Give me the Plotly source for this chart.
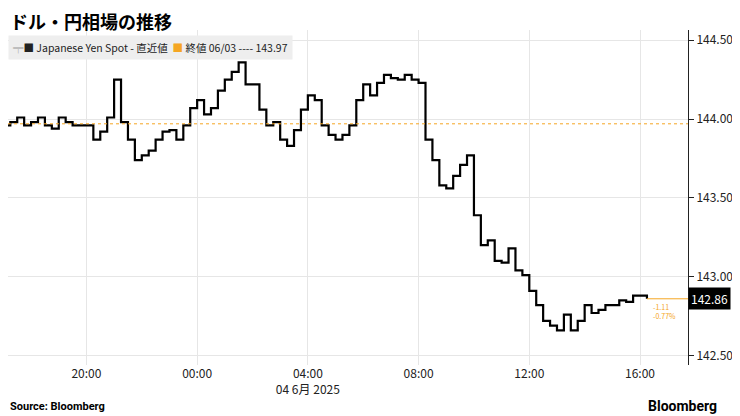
import pandas as pd
import plotly.graph_objects as go

prices = [143.96,143.98,144.01,143.96,143.98,144.01,143.96,143.94,144.01,143.98,143.96,143.96,
          143.96,143.87,143.92,144.01,144.25,143.98,143.87,143.74,143.77,143.80,143.87,143.92,
          143.93,143.87,143.96,144.07,144.12,144.03,144.07,144.18,144.25,144.30,144.36,144.22,
          144.22,144.06,143.96,143.98,143.87,143.83,143.93,144.06,144.15,144.12,143.96,143.90,
          143.87,143.90,143.96,144.12,144.22,144.15,144.23,144.28,144.26,144.25,144.28,144.25,
          144.23,143.87,143.74,143.58,143.56,143.64,143.71,143.77,143.39,143.20,143.23,143.10,
          143.09,143.18,143.04,143.01,142.91,142.82,142.72,142.69,142.66,142.76,142.66,142.72,
          142.82,142.77,142.79,142.82,142.82,142.85,142.84,142.88,142.88,142.86]
times = pd.date_range("2025-06-03 17:00", periods=len(prices), freq="15min")
prev_close = 143.97
last = prices[-1]
tick_vals = ["2025-06-03 20:00","2025-06-04 00:00","2025-06-04 04:00","2025-06-04 08:00","2025-06-04 12:00","2025-06-04 16:00"]
tick_text = ["20:00","00:00","04:00<br>04 6月 2025","08:00","12:00","16:00"]
y_ticks = [142.5,143.0,143.5,144.0,144.5]

fig = go.Figure()
fig.add_trace(go.Scatter(x=times, y=prices, mode="lines", line=dict(color="black", width=2.2, shape="hv"), hoverinfo="skip"))
fig.add_shape(type="line", xref="paper", x0=0, x1=1, y0=prev_close, y1=prev_close, line=dict(color="#f5a623", width=1, dash="dot"))
fig.add_shape(type="line", xref="x", x0=times[-1], x1="2025-06-04 17:44", y0=last, y1=last, line=dict(color="#f5a623", width=1))

fig.update_layout(
    width=732, height=408, margin=dict(l=0, r=52, t=22, b=51, autoexpand=False),
    paper_bgcolor="white", plot_bgcolor="white", showlegend=False,
    font=dict(family="Noto Sans CJK JP, Roboto", color="#222", size=12),
    xaxis=dict(range=["2025-06-03 17:10","2025-06-04 17:44"], tickvals=tick_vals, ticktext=tick_text, automargin=False,
               showgrid=True, gridcolor="#e6e6e6", showline=False, ticks="", tickfont=dict(size=12)),
    yaxis=dict(side="right", range=[142.44,144.565], tickvals=y_ticks, tickformat=".2f", automargin=False,
               showgrid=True, gridcolor="#e6e6e6", showline=True, linecolor="#222", linewidth=1,
               ticks="outside", ticklen=5, tickcolor="#222", tickfont=dict(size=12), zeroline=False),
)
fig.add_annotation(xref="paper", yref="paper", x=-0.0, y=1.0, yshift=24, xanchor="left", yanchor="top",
                   text="<b>ドル・円相場の推移</b>", showarrow=False, font=dict(size=18, color="black"))
fig.add_annotation(xref="paper", yref="paper", x=0.0, y=0.985, xanchor="left", yanchor="top",
                   text="<span style='color:#999'>╤</span>■ Japanese Yen Spot - 直近値  <span style='color:#f5a623'>■</span> 終値 06/03 ---- 143.97",
                   showarrow=False, bgcolor="#eeeeee", font=dict(size=10.5, color="#222"), borderpad=4)
fig.add_annotation(xref="paper", yref="y", x=1.0, y=last, xanchor="left", xshift=0, text="142.86",
                   showarrow=False, bgcolor="black", font=dict(size=12, color="white"), borderpad=2)
fig.add_annotation(x=times[-1], y=last, xanchor="left", yanchor="top", xshift=4, yshift=-1,
                   text="-1.11<br>-0.77%", showarrow=False, align="left", font=dict(size=7, color="#f5a623"))
fig.add_annotation(xref="paper", yref="paper", x=0.0, y=0, yshift=-50, xanchor="left", yanchor="bottom",
                   text="<b>Source: Bloomberg</b>", showarrow=False, font=dict(size=11, color="black", family="Roboto"))
fig.add_annotation(xref="paper", yref="paper", x=1.045, y=0, yshift=-51, xanchor="right", yanchor="bottom",
                   text="<b>Bloomberg</b>", showarrow=False, font=dict(size=14, color="black", family="Roboto"))
fig.write_html("out.html")
